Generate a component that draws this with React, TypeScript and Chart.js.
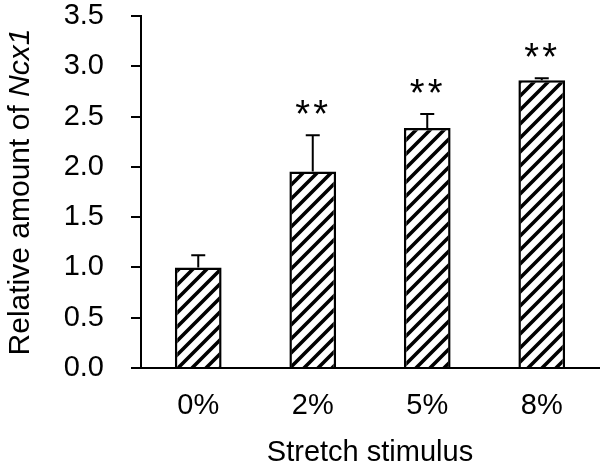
import { useEffect, useRef } from "react";
import { Chart, registerables } from "chart.js";

Chart.register(...registerables);

const categories = ["0%", "2%", "5%", "8%"];
const means = [1.0, 1.955, 2.386, 2.86];
const errors = [0.12, 0.36, 0.14, 0.02];
const significance = ["", "**", "**", "**"];
const yMin = 0;
const yMax = 3.5;
const yStep = 0.5;
const xTitle = "Stretch stimulus";
const yTitlePlain = "Relative amount of ";
const yTitleItalic = "Ncx1";

const FONT = "'Liberation Sans', Arial, sans-serif";

function makeHatch(): CanvasPattern | string {
  const s = 14;
  const c = document.createElement("canvas");
  c.width = s;
  c.height = s;
  const g = c.getContext("2d");
  if (!g) return "#fff";
  g.fillStyle = "#fff";
  g.fillRect(0, 0, s, s);
  g.strokeStyle = "#000";
  g.lineWidth = 3.6;
  g.lineCap = "square";
  g.beginPath();
  g.moveTo(-2, s + 2);
  g.lineTo(s + 2, -2);
  g.moveTo(-2, 2);
  g.lineTo(2, -2);
  g.moveTo(s - 2, s + 2);
  g.lineTo(s + 2, s - 2);
  g.stroke();
  const p = g.createPattern(c, "repeat");
  return p || "#fff";
}

const annotationsPlugin = {
  id: "annotations",
  afterDatasetsDraw(chart: any) {
    const ctx = chart.ctx as CanvasRenderingContext2D;
    const meta = chart.getDatasetMeta(0);
    const yScale = chart.scales.y;
    ctx.save();
    meta.data.forEach((bar: any, i: number) => {
      const x = bar.x;
      const yTop = yScale.getPixelForValue(means[i]);
      const yErr = yScale.getPixelForValue(means[i] + errors[i]);
      ctx.strokeStyle = "#000";
      ctx.lineWidth = 2;
      ctx.beginPath();
      ctx.moveTo(x, yTop);
      ctx.lineTo(x, yErr);
      ctx.moveTo(x - 7, yErr);
      ctx.lineTo(x + 7, yErr);
      ctx.stroke();
      const lab = significance[i];
      if (lab) {
        ctx.fillStyle = "#000";
        ctx.font = `38px ${FONT}`;
        ctx.textAlign = "center";
        ctx.textBaseline = "alphabetic";
        const chars = lab.split("");
        const gap = 18;
        const startX = x - ((chars.length - 1) * gap) / 2 - 1;
        chars.forEach((ch, k) => {
          ctx.fillText(ch, startX + k * gap, yErr - 8);
        });
      }
    });
    ctx.restore();
  },
  afterDraw(chart: any) {
    const ctx = chart.ctx as CanvasRenderingContext2D;
    const area = chart.chartArea;
    ctx.save();
    const fs = 30;
    const plainFont = `${fs}px ${FONT}`;
    const italicFont = `italic ${fs}px ${FONT}`;
    ctx.font = plainFont;
    const w1 = ctx.measureText(yTitlePlain).width;
    ctx.font = italicFont;
    const w2 = ctx.measureText(yTitleItalic).width;
    const total = w1 + w2;
    const cy = (area.top + area.bottom) / 2;
    ctx.translate(21, cy);
    ctx.rotate(-Math.PI / 2);
    ctx.fillStyle = "#000";
    ctx.textBaseline = "middle";
    ctx.textAlign = "left";
    ctx.font = plainFont;
    ctx.fillText(yTitlePlain, -total / 2, 0);
    ctx.font = italicFont;
    ctx.fillText(yTitleItalic, -total / 2 + w1, 0);
    ctx.restore();
  },
};

export default function App() {
  const ref = useRef<HTMLCanvasElement | null>(null);

  useEffect(() => {
    if (!ref.current) return;
    const hatch = makeHatch();
    const chart = new Chart(ref.current, {
      type: "bar",
      data: {
        labels: categories,
        datasets: [
          {
            data: means,
            backgroundColor: hatch as any,
            borderColor: "#000",
            borderWidth: 2.5,
            borderSkipped: "bottom",
            categoryPercentage: 1,
            barPercentage: 0.408,
          },
        ],
      },
      options: {
        animation: false,
        responsive: false,
        maintainAspectRatio: false,
        layout: { padding: 0 },
        plugins: {
          legend: { display: false },
          tooltip: { enabled: false },
          title: { display: false },
        },
        scales: {
          x: {
            offset: true,
            grid: { display: false, drawTicks: false },
            border: { display: true, color: "#000", width: 2 },
            ticks: {
              color: "#000",
              font: { family: FONT, size: 29 },
              padding: 21,
              maxRotation: 0,
            },
            title: {
              display: true,
              text: xTitle,
              color: "#000",
              font: { family: FONT, size: 29 },
              padding: { top: 0, bottom: -4 },
            },
            afterFit: (scale: any) => {
              scale.height = 98;
              scale.paddingRight = 1;
              scale.paddingLeft = 0;
            },
          },
          y: {
            min: yMin,
            max: yMax,
            ticks: {
              stepSize: yStep,
              color: "#000",
              font: { family: FONT, size: 29 },
              padding: 27,
              callback: (v: any) => Number(v).toFixed(1),
            },
            grid: {
              display: true,
              drawOnChartArea: false,
              drawTicks: true,
              tickLength: 10,
              color: "#000",
              lineWidth: 2,
            },
            border: { display: true, color: "#000", width: 2 },
            afterFit: (scale: any) => {
              scale.width = 141;
              scale.paddingTop = 16;
            },
          },
        },
      },
      plugins: [annotationsPlugin],
    });
    return () => chart.destroy();
  }, []);

  return (
    <div style={{ position: "fixed", left: 0, top: 0, width: 600, height: 466, background: "#fff" }}>
      <canvas ref={ref} width={600} height={466} style={{ width: 600, height: 466, display: "block" }} />
    </div>
  );
}
